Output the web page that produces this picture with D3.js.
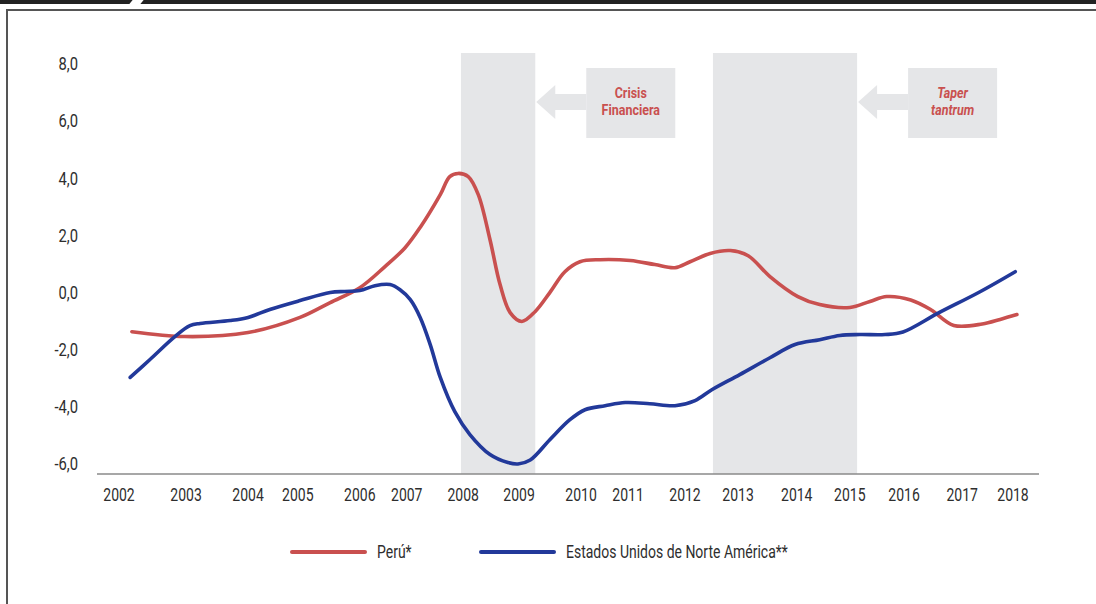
<!DOCTYPE html>
<html>
<head>
<meta charset="utf-8">
<script src="https://cdn.jsdelivr.net/npm/d3@7"></script>
<style>
  html, body { margin: 0; padding: 0; background: #fff; }
  svg { display: block; }
  text { font-family: "Roboto", "Liberation Sans", sans-serif; fill: #2e2e2e; }
</style>
</head>
<body>
<svg id="chart" width="1096" height="604"></svg>
<script>
// Year labels and where each sits on the time axis (decimal years)
const years = ["2002","2003","2004","2005","2006","2007","2008","2009","2010","2011","2012","2013","2014","2015","2016","2017","2018"];
const yearTickAt = [2002, 2003.20, 2004.31, 2005.20, 2006.31, 2007.15, 2008.16, 2009.16, 2010.27, 2011.11, 2012.13, 2013.08, 2014.13, 2015.08, 2016.05, 2017.09, 2018];

const yTicks = [8, 6, 4, 2, 0, -2, -4, -6];

// Perú* : [decimal year, value]
const peru = [
  [2002.23,-1.37],[2003.18,-1.54],[2004.31,-1.40],[2005.24,-0.87],[2005.78,-0.35],
  [2006.31,0.17],[2006.76,0.91],[2007.12,1.57],[2007.39,2.28],[2007.75,3.43],
  [2007.92,4.06],[2008.07,4.17],[2008.25,4.06],[2008.43,3.43],[2008.64,1.85],
  [2008.82,0.28],[2009.00,-0.70],[2009.21,-1.01],[2009.45,-0.66],[2009.71,0.00],
  [2009.98,0.73],[2010.25,1.08],[2010.61,1.15],[2011.15,1.12],[2011.59,0.98],
  [2011.95,0.87],[2012.22,1.08],[2012.58,1.37],[2012.94,1.47],[2013.26,1.29],
  [2013.65,0.56],[2014.15,-0.14],[2014.54,-0.42],[2015.08,-0.52],[2015.44,-0.31],
  [2015.74,-0.14],[2016.17,-0.26],[2016.53,-0.60],[2016.94,-1.15],
  [2017.45,-1.10],[2017.77,-0.94],[2018.07,-0.77]
];

// Estados Unidos de Norte América** : [decimal year, value]
const usa = [
  [2002.20,-2.97],[2002.55,-2.35],[2003.00,-1.54],[2003.27,-1.16],[2003.45,-1.08],
  [2003.99,-0.98],[2004.31,-0.87],[2004.70,-0.59],[2005.24,-0.28],[2005.78,0.00],
  [2006.04,0.04],[2006.31,0.07],[2006.58,0.24],[2006.85,0.28],[2007.03,0.10],
  [2007.21,-0.24],[2007.39,-0.87],[2007.57,-1.82],[2007.75,-2.97],[2008.01,-4.17],
  [2008.28,-4.97],[2008.64,-5.67],[2008.96,-5.95],[2009.14,-6.00],[2009.36,-5.86],
  [2009.71,-5.15],[2010.07,-4.45],[2010.34,-4.10],[2010.70,-3.96],[2011.06,-3.85],
  [2011.50,-3.89],[2011.95,-3.96],[2012.31,-3.78],[2012.61,-3.40],[2013.11,-2.87],
  [2013.65,-2.28],[2014.10,-1.82],[2014.54,-1.65],[2014.90,-1.50],[2015.26,-1.47],
  [2015.71,-1.47],[2016.03,-1.38],[2016.66,-0.72],[2017.41,0.03],[2018.04,0.73]
];

// Shaded episodes: [start, end] in decimal years, with their notes
const episodes = [
  { span: [2008.12, 2009.45], lines: ["Crisis", "Financiera"], italic: false },
  { span: [2012.63, 2015.21], lines: ["Taper", "tantrum"], italic: true }
];

const seriesNames = ["Perú*", "Estados Unidos de Norte América**"];
const seriesColors = ["#c9504f", "#22399a"];

const svg = d3.select("#chart");

// Narrow text: glyphs squeezed horizontally around their anchor
function narrowText(parent, px, py, str, opts) {
  const g = parent.append("g").attr("transform", `translate(${px},${py}) scale(${opts.sx},1)`);
  return g.append("text")
    .attr("x", 0).attr("y", 0)
    .attr("dy", opts.dy || "0.35em")
    .attr("text-anchor", opts.anchor || "start")
    .style("font-size", opts.size + "px")
    .style("font-weight", opts.weight || "normal")
    .style("font-style", opts.italic ? "italic" : "normal")
    .style("fill", opts.fill || null)
    .text(str);
}

// Page frame: dark strip with a slash, then the thin box outline
svg.append("rect").attr("x", 0).attr("y", 0).attr("width", 1096).attr("height", 4).attr("fill", "#222");
svg.append("polygon").attr("points", "129,4.5 140,4.5 144,-0.5 133,-0.5").attr("fill", "#fff");
svg.append("rect").attr("x", 7).attr("y", 10).attr("width", 1200).attr("height", 700)
  .attr("fill", "none").attr("stroke", "#555").attr("stroke-width", 2);

const x = d3.scaleLinear().domain([2002, 2018]).range([119, 1013]);
const y = d3.scaleLinear().domain([-6.35, 8]).range([474, 64]);

// Shaded bands
const bandTop = 53;
svg.append("g").selectAll("rect").data(episodes).join("rect")
  .attr("x", d => x(d.span[0]))
  .attr("y", bandTop)
  .attr("width", d => x(d.span[1]) - x(d.span[0]))
  .attr("height", y.range()[0] - bandTop)
  .attr("fill", "#e5e6e8");

// Note boxes with arrows pointing back at the bands
const notes = svg.append("g");
episodes.forEach(ep => {
  const tip = x(ep.span[1]) + 1;
  const boxX = tip + 50, boxW = 89, boxY = 68, boxH = 70;
  const midY = boxY + 34;
  const path = d3.path();
  path.moveTo(tip, midY);
  path.lineTo(tip + 19, midY - 17);
  path.lineTo(tip + 19, midY - 8);
  path.lineTo(boxX, midY - 8);
  path.lineTo(boxX, midY + 8);
  path.lineTo(tip + 19, midY + 8);
  path.lineTo(tip + 19, midY + 17);
  path.closePath();
  notes.append("path").attr("d", path.toString()).attr("fill", "#e5e6e8");
  notes.append("rect").attr("x", boxX).attr("y", boxY).attr("width", boxW).attr("height", boxH).attr("fill", "#e5e6e8");
  ep.lines.forEach((ln, i) => {
    narrowText(notes, boxX + boxW / 2, 93 + i * 17, ln,
      { sx: 0.86, size: 14.5, weight: "bold", italic: ep.italic, anchor: "middle", fill: "#c9504f" });
  });
});

// Y axis labels
const yAxis = svg.append("g");
yTicks.forEach(v => {
  narrowText(yAxis, 78, y(v), d3.format(".1f")(v).replace(".", ",").replace("\u2212", "-"),
    { sx: 0.82, size: 18, anchor: "end" });
});

// X axis baseline
svg.append("line")
  .attr("x1", 97).attr("x2", 1039)
  .attr("y1", y.range()[0]).attr("y2", y.range()[0])
  .attr("stroke", "#8a8a8a").attr("stroke-width", 1.5);

// Year labels
const xAxis = svg.append("g");
years.forEach((yr, i) => {
  narrowText(xAxis, x(yearTickAt[i]), 495, yr, { sx: 0.8, size: 17.5, anchor: "middle" });
});

// Series lines
const line = d3.line()
  .x(d => x(d[0]))
  .y(d => y(d[1]))
  .curve(d3.curveCatmullRom.alpha(0.5));

[peru, usa].forEach((s, i) => {
  svg.append("path")
    .datum(s)
    .attr("d", line)
    .attr("fill", "none")
    .attr("stroke", seriesColors[i])
    .attr("stroke-width", 3.6)
    .attr("stroke-linecap", "round")
    .attr("stroke-linejoin", "round");
});

// Legend
const legendX = [292, 481];
const legend = svg.append("g");
seriesNames.forEach((name, i) => {
  legend.append("line")
    .attr("x1", legendX[i]).attr("x2", legendX[i] + 73)
    .attr("y1", 552).attr("y2", 552)
    .attr("stroke", seriesColors[i]).attr("stroke-width", 4)
    .attr("stroke-linecap", "round");
  narrowText(legend, legendX[i] + 85, 552, name, { sx: 0.8, size: 17.5 });
});
</script>
</body>
</html>
